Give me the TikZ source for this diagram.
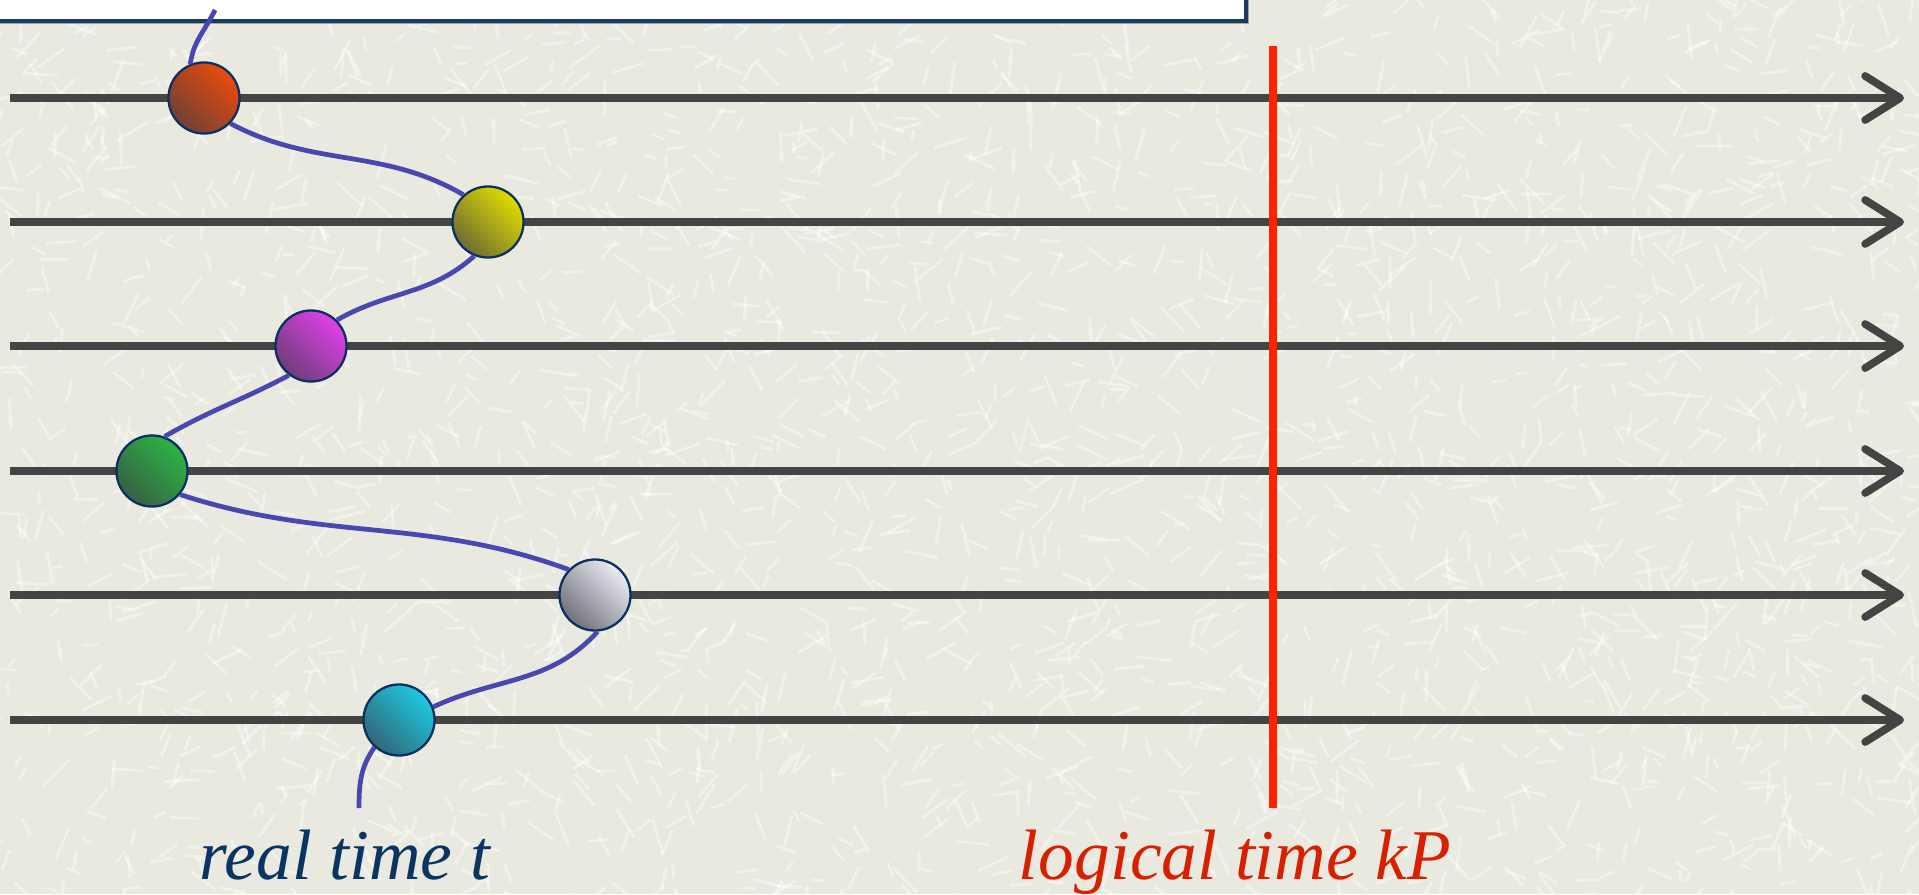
\documentclass[tikz,border=0pt]{standalone}
\usepackage{fontspec}
\setmainfont{Liberation Serif}
\usepackage{tikz}
\usetikzlibrary{arrows.meta,positioning,calc}
\definecolor{paper}{HTML}{E9E9E0}
\definecolor{lineGrey}{HTML}{444444}
\definecolor{boxRim}{HTML}{1F3A5F}
\definecolor{ballRim}{HTML}{0A3060}
\definecolor{ballDark}{HTML}{3C3C48}
\definecolor{worldLine}{HTML}{4848B0}
\definecolor{kpRed}{HTML}{FF2200}
\definecolor{realBlue}{HTML}{0A3563}
\definecolor{logRed}{HTML}{D82000}
\definecolor{cOrange}{HTML}{EA4A0C}
\definecolor{cYellow}{HTML}{E2DC00}
\definecolor{cMagenta}{HTML}{E040EA}
\definecolor{cGreen}{HTML}{2CB444}
\definecolor{cSilver}{HTML}{ECECF4}
\definecolor{cCyan}{HTML}{1CCAE2}

\begin{document}
\begin{tikzpicture}[x=0.01cm,y=-0.01cm,>=Latex,
  timeline/.style={draw=lineGrey,line width=2.2pt,
    -{Straight Barb[length=3.5mm,width=4.4mm,line width=2.2pt,round]}},
  ball/.style={circle,draw=ballRim,line width=0.65pt,minimum size=7.1mm,inner sep=0pt,
    top color=#1,bottom color=#1!30!ballDark,shading angle=-45},
  trace/.style={draw=worldLine,line width=1.35pt},
  scratch/.style={white,opacity=0.45,line width=0.8pt},
  lab/.style={font=\fontsize{20.3}{24}\selectfont\itshape,anchor=base,inner sep=0pt}]
\useasboundingbox (0,0) rectangle (1919,894);
\fill[paper] (0,0) rectangle (1919,894);
% paper texture
\pgfmathsetseed{4711}
\foreach \k in {1,...,2600}{
  \pgfmathsetmacro{\px}{rnd*1960-20}
  \pgfmathsetmacro{\py}{rnd*930-20}
  \pgfmathsetmacro{\pa}{rnd*180}
  \pgfmathsetmacro{\pl}{10+rnd*26}
  \draw[scratch] (\px,\py) -- ++(\pa:\pl);
}
% caption box at the top
\fill[black!35] (-5,-20) rectangle (1249,24);
\draw[boxRim,fill=white,line width=1.2pt] (-5,-20) rectangle (1246,21);
% time lines
\foreach \y [count=\i] in {98,222,346,471,595,720}{
  \coordinate (s\i) at (10,\y);
  \coordinate (e\i) at (1904,\y);
  \draw[timeline] (s\i) -- (e\i);
}
\coordinate (kptop) at (1273,46);
\coordinate (kpbot) at (1273,808);
\draw[kpRed,line width=2.1pt] (kptop) -- (kpbot);
% events
\node[ball=cOrange] (b1) at (204,98) {};
\node[ball=cYellow] (b2) at (488,222) {};
\node[ball=cMagenta] (b3) at (311,346) {};
\node[ball=cGreen] (b4) at (152,471) {};
\node[ball=cSilver] (b5) at (595,595) {};
\node[ball=cCyan] (b6) at (399,720) {};
\coordinate (tin) at (215,10);
\coordinate (tout) at (359,808);
\draw[trace] (tin) to[out=-116,in=82] (b1.112);
\draw[trace] (b1.-44) to[out=-28,in=150] (b2.132);
\draw[trace] (b2.-112) to[out=-138,in=30] (b3.45);
\draw[trace] (b3.-127) to[out=-152,in=30] (b4.70);
\draw[trace] (b4.-40) to[out=-18,in=160] (b5.136);
\draw[trace] (b5.-86) to[out=-132,in=25] (b6.21);
\draw[trace] (b6.-132) to[out=-125,in=90] (tout);
\node[lab,text=realBlue] (real) at (345,879) {real time t};
\node[lab,text=logRed] (logical) at (1235,879) {logical time kP};
\end{tikzpicture}
\end{document}
